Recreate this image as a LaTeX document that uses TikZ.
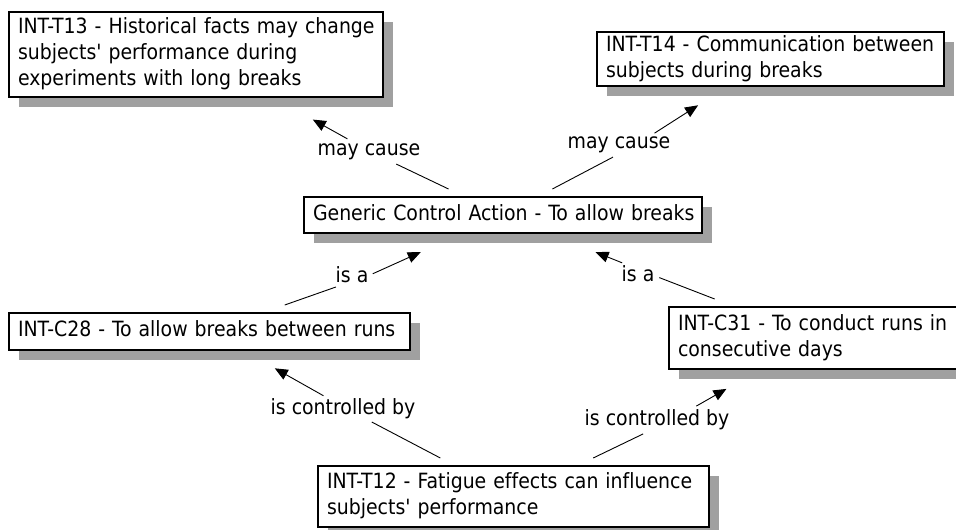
\documentclass[tikz,border=0pt]{standalone}
\usepackage{fontspec}
\setmainfont{DejaVu Sans Condensed}[Ligatures={TeXOff,CommonOff}]
\usetikzlibrary{shadows,arrows.meta}
\definecolor{shadowgray}{RGB}{160,160,160}
\begin{document}
\begin{tikzpicture}[x=1pt,y=-1pt,
  every node/.style={font=\fontsize{21}{26}\selectfont},
  concept/.style={draw=black, line width=1.2pt, fill=white, align=left,
    inner xsep=9pt, inner ysep=0pt, outer sep=8pt,
    drop shadow={shadow xshift=10pt, shadow yshift=-10pt, fill=shadowgray, opacity=1}},
  linkword/.style={inner sep=1pt, outer sep=4pt},
  link/.style={draw=black, line width=0.9pt},
  linkto/.style={link, -{Triangle[length=13pt,width=11pt]}}]
\useasboundingbox (0,0) rectangle (956,530);
\fill[white] (0,0) rectangle (956,530);
\clip (0,0) rectangle (956,530);

% concepts
\node[concept, minimum width=374pt, minimum height=85pt, text width=356pt] (t13) at (196,54.5)
  {\strut\mbox{INT-T13 - Historical facts may change}\\\mbox{subjects' performance during}\\\mbox{experiments with long breaks}\strut};
\node[concept, minimum width=347pt, minimum height=54pt, text width=329pt] (t14) at (770.5,59)
  {\strut\mbox{INT-T14 - Communication between}\\\mbox{subjects during breaks}\strut};
\node[concept, minimum width=398pt, minimum height=36pt, text width=380pt] (gen) at (503,215)
  {\strut\mbox{Generic Control Action - To allow breaks}};
\node[concept, minimum width=401pt, minimum height=37pt, text width=383pt] (c28) at (209.5,331.5)
  {\strut\mbox{INT-C28 - To allow breaks between runs}};
\node[concept, minimum width=293pt, minimum height=62pt, text width=275pt] (c31) at (815.5,338)
  {\strut\mbox{INT-C31 - To conduct runs in}\\\mbox{consecutive days}\strut};
\node[concept, minimum width=391pt, minimum height=61pt, text width=373pt] (t12) at (513.5,496.5)
  {\strut\mbox{INT-T12 - Fatigue effects can influence}\\\mbox{subjects' performance}\strut};

% linking phrases
\node[linkword] (l1) at (369,152) {may cause};
\node[linkword] (l2) at (619,145) {may cause};
\node[linkword] (l3) at (352,275) {is a};
\node[linkword] (l4) at (638,274) {is a};
\node[linkword] (l5) at (343,409) {is controlled by};
\node[linkword] (l6) at (657,420) {is controlled by};

% connections: each runs through a point of its linking phrase
\draw[link, shorten >=28pt] (gen) -- ([xshift=2pt]l1.center);
\draw[linkto, shorten <=27pt, shorten >=30pt] ([xshift=2pt]l1.center) -- (t13);
\draw[link, shorten >=26pt] (gen) -- ([xshift=17pt]l2.center);
\draw[linkto, shorten <=22pt, shorten >=21pt] ([xshift=17pt]l2.center) -- (t14);
\draw[link, shorten >=36pt] (c28) -- ([xshift=18pt]l3.center);
\draw[linkto, shorten <=3pt, shorten >=27pt] ([xshift=18pt]l3.center) -- (gen);
\draw[link, shorten >=10pt] (c31) -- ([xshift=12pt]l4.center);
\draw[linkto, shorten <=30pt, shorten >=30pt] ([xshift=12pt]l4.center) -- (gen);
\draw[link, shorten >=28pt] (t12) -- ([xshift=4pt]l5.center);
\draw[linkto, shorten <=27pt, shorten >=21pt] ([xshift=4pt]l5.center) -- (c28);
\draw[link, shorten >=32pt] (t12) -- ([xshift=15pt]l6.center);
\draw[linkto, shorten <=28pt, shorten >=24pt] ([xshift=15pt]l6.center) -- (c31);
\end{tikzpicture}
\end{document}
